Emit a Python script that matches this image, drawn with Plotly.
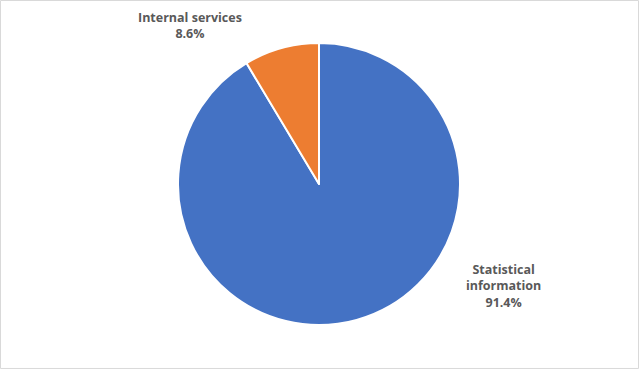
import plotly.graph_objects as go

categories = ["Statistical information", "Internal services"]
values = [91.4, 8.6]
label_texts = ["Statistical<br>information<br>91.4%", "Internal services<br>8.6%"]
colors = ["#4472C4", "#ED7D31"]

W, H = 639, 369
cx, cy, r = 319, 184, 141

fig = go.Figure(go.Pie(
    labels=categories,
    values=values,
    sort=False,
    direction="clockwise",
    rotation=0,
    marker=dict(colors=colors, line=dict(color="white", width=2)),
    textinfo="none",
    hoverinfo="label+percent",
    showlegend=False,
    domain=dict(x=[(cx - r) / W, (cx + r) / W], y=[(H - cy - r) / H, (H - cy + r) / H]),
))

font = dict(family="Open Sans, Liberation Sans, sans-serif", size=12.5, color="#595959")
fig.add_annotation(x=503 / W, y=1 - 286 / H, xref="paper", yref="paper", text="<b>" + label_texts[0] + "</b>",
                   showarrow=False, font=font, align="center", xanchor="center", yanchor="middle")
fig.add_annotation(x=190 / W, y=1 - 25 / H, xref="paper", yref="paper", text="<b>" + label_texts[1] + "</b>",
                   showarrow=False, font=font, align="center", xanchor="center", yanchor="middle")

fig.add_shape(type="rect", xref="paper", yref="paper", x0=0.0008, y0=0.0014, x1=0.9992, y1=0.9986,
              line=dict(color="#D9D9D9", width=1))

fig.update_layout(width=W, height=H, margin=dict(l=0, r=0, t=0, b=0),
                  paper_bgcolor="white", plot_bgcolor="white")
fig.write_html("out.html")
